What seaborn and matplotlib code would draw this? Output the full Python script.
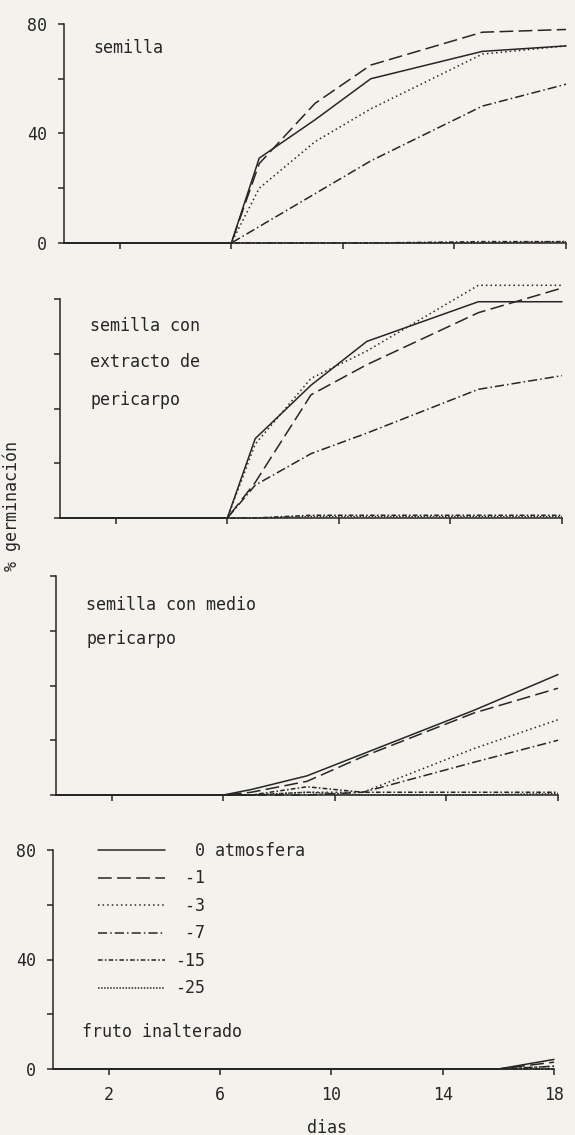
import numpy as np
import pandas as pd
import matplotlib.pyplot as plt
import seaborn as sns

# Datos (% de germinacion acumulada)
dias = [0, 6, 7, 9, 11, 15, 18]
dias_fruto = [0, 16, 18]
presiones = ['0', '-1', '-3', '-7', '-15', '-25']
etiquetas = ['  0 atmosfera', ' -1', ' -3', ' -7', '-15', '-25']
ticks_x = [2, 6, 10, 14, 18]
ticks_y = [0, 20, 40, 60, 80]

# una fila por presion, en el orden de "presiones"
semilla = [
    [0, 0, 31, 45, 60, 70, 72],
    [0, 0, 29, 51, 65, 77, 78],
    [0, 0, 20, 37, 49, 69, 72],
    [0, 0, 6, 18, 30, 50, 58],
    [0, 0, 0, 0, 0, 0.5, 0.5],
    [0, 0, 0, 0, 0, 0, 0.5],
]
extracto = [
    [0, 0, 29, 48.5, 64.5, 79, 79],
    [0, 0, 13, 45, 56, 75, 84],
    [0, 0, 27, 51, 61, 85, 85],
    [0, 0, 12, 23.5, 31, 47, 52],
    [0, 0, 0, 1, 1, 1, 1],
    [0, 0, 0, 0.5, 0.5, 0.5, 0.5],
]
medio = [
    [0, 0, 2, 7, 15, 31, 44],
    [0, 0, 1, 5, 14, 30, 39],
    [0, 0, 0, 1, 1, 17, 27.5],
    [0, 0, 0, 0, 1, 12, 20],
    [0, 0, 0, 3, 1, 1, 1],
    [0, 0, 0, 1, 0, 0, 0.5],
]
fruto = [
    [0, 0, 3.5],
    [0, 0, 2.5],
    [0, 0, 1],
    [0, 0, 1],
    [0, 0, 0],
    [0, 0, 0],
]

TINTA = '#262626'
FONDO = '#f4f2ed'
FUENTE = ['DejaVu Sans Mono', 'DejaVu Sans']

# estilos de linea de cada presion
trazos = {
    '0': '',
    '-1': (9, 3.5),
    '-3': (1, 2),
    '-7': (6, 2, 1, 2),
    '-15': (3, 1.5, 1, 1.5),
    '-25': (1, 1),
}


def armar_df(x, filas):
    partes = []
    for p, valores in zip(presiones, filas):
        partes.append(pd.DataFrame({'dia': x, 'pct': valores, 'presion': p}))
    return pd.concat(partes, ignore_index=True)


def rect(izq, ancho, y0, alto=219):
    # posicion en pixeles -> fraccion de figura
    return [izq / 575, 1 - y0 / 1135, ancho / 575, alto / 1135]


sns.set_style('ticks')
plt.rcParams['font.family'] = FUENTE

fig = plt.figure(figsize=(5.75, 11.35), dpi=100, facecolor=FONDO)

paneles = [
    (rect(64, 502, 243), dias, semilla),
    (rect(60, 502, 518), dias, extracto),
    (rect(56, 502, 795), dias, medio),
    (rect(53, 501, 1069), dias_fruto, fruto),
]

ejes = []
for i, (pos, x, filas) in enumerate(paneles):
    ax = fig.add_axes(pos)
    ax.set_facecolor('none')
    df = armar_df(x, filas)
    sns.lineplot(data=df, x='dia', y='pct', style='presion', style_order=presiones,
                 dashes=trazos, color=TINTA, linewidth=1.1, errorbar=None,
                 legend=(i == 3), ax=ax)
    for linea in ax.lines:
        linea.set_clip_on(False)
    ax.set_xlim(0, 18)
    ax.set_ylim(0, 80)
    ax.spines['top'].set_visible(False)
    ax.spines['right'].set_visible(False)
    for s in ['left', 'bottom']:
        ax.spines[s].set_color(TINTA)
        ax.spines[s].set_linewidth(1.1)
    ax.set_xticks(ticks_x)
    ax.set_yticks(ticks_y)
    ax.tick_params(direction='out', length=4, width=1.1, color=TINTA,
                   labelsize=12, labelcolor=TINTA, pad=8)
    if i in (0, 3):
        ax.set_yticklabels(['0', '', '40', '', '80'])
    else:
        ax.set_yticklabels([])
    if i == 3:
        ax.set_xticklabels([str(t) for t in ticks_x])
    else:
        ax.set_xticklabels([])
    ax.set_xlabel('')
    ax.set_ylabel('')
    ejes.append(ax)

# leyenda del ultimo panel
ax = ejes[3]
handles, labels = ax.get_legend_handles_labels()
orden = [labels.index(p) for p in presiones]
ax.legend([handles[k] for k in orden], etiquetas, loc='upper left',
          bbox_to_anchor=(0.09, 1.037), frameon=False, fontsize=12,
          handlelength=4.0, handletextpad=0.6, labelspacing=0.57,
          borderpad=0, borderaxespad=0, labelcolor=TINTA)

# textos de cada panel
def texto(x, y, s, **kw):
    fig.text(x / 575, 1 - y / 1135, s, color=TINTA, fontsize=12, va='center', **kw)


texto(93, 48, 'semilla')
texto(90, 326, 'semilla con')
texto(90, 362, 'extracto de')
texto(90, 400, 'pericarpo')
texto(86, 605, 'semilla con medio')
texto(86, 639, 'pericarpo')
texto(82, 1032, 'fruto inalterado')
texto(12, 506, '% germinación', rotation=90, ha='center')
texto(327, 1128, 'dias', ha='center')

plt.savefig('out.png', dpi=100, facecolor=FONDO)
